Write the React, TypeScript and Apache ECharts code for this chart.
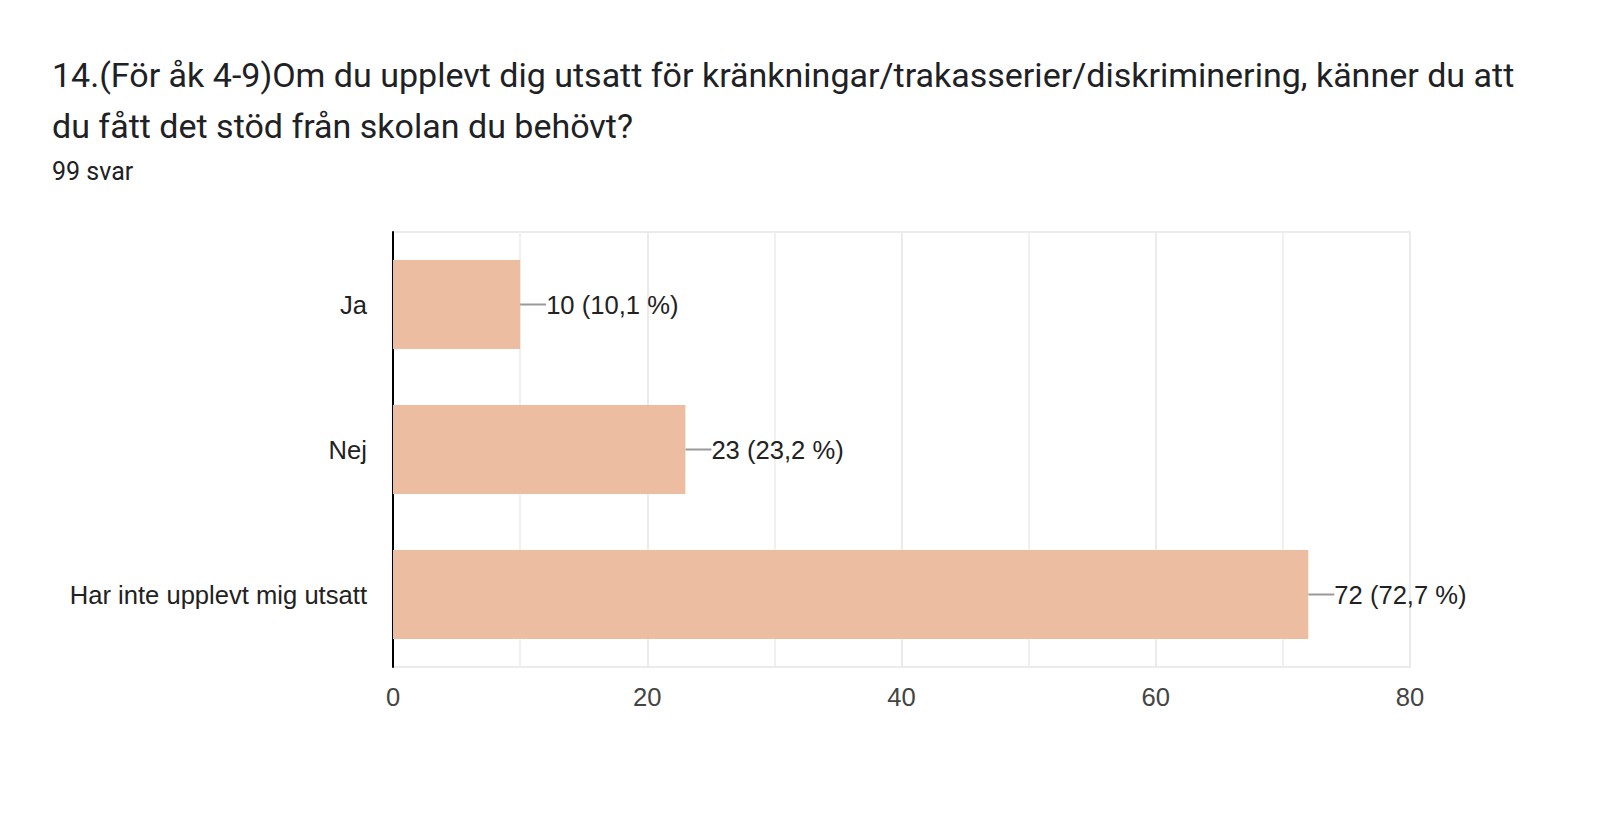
import React, { useEffect, useRef } from 'react';
import * as echarts from 'echarts';

const categories = ['Ja', 'Nej', 'Har inte upplevt mig utsatt'];
const counts = [10, 23, 72];
const percents = ['10,1', '23,2', '72,7'];
const xTicks = [0, 20, 40, 60, 80];

const TITLE = '14.(För åk 4-9)Om du upplevt dig utsatt för kränkningar/trakasserier/diskriminering, känner du att\ndu fått det stöd från skolan du behövt?';
const SUBTITLE = '99 svar';

const App: React.FC = () => {
    const chartRef = useRef<HTMLDivElement>(null);

    useEffect(() => {
        if (!chartRef.current) return;
        const chart = echarts.init(chartRef.current, null, { renderer: 'svg' });

        const option: echarts.EChartsOption = {
            animation: false,
            backgroundColor: '#ffffff',
            title: [
                {
                    text: TITLE,
                    left: 52,
                    top: 49,
                    padding: 0,
                    textStyle: {
                        fontFamily: 'Roboto',
                        fontSize: 34,
                        fontWeight: 'normal',
                        color: '#202124',
                        lineHeight: 51,
                    },
                },
                {
                    text: SUBTITLE,
                    left: 52,
                    top: 156,
                    padding: 0,
                    textStyle: {
                        fontFamily: 'Roboto',
                        fontSize: 25,
                        fontWeight: 'normal',
                        color: '#202124',
                        lineHeight: 30,
                    },
                },
            ],
            grid: {
                left: 393,
                right: 190,
                top: 232,
                bottom: 146,
                show: true,
                borderColor: '#ebebeb',
                borderWidth: 2,
            },
            xAxis: {
                type: 'value',
                min: xTicks[0],
                max: xTicks[xTicks.length - 1],
                interval: 20,
                axisLine: { show: false },
                axisTick: { show: false },
                minorTick: { show: false, splitNumber: 2 },
                minorSplitLine: { show: true, lineStyle: { color: '#f0f0f0', width: 2 } },
                splitLine: { lineStyle: { color: '#ebebeb', width: 2 } },
                axisLabel: {
                    fontFamily: 'Liberation Sans',
                    fontSize: 25.6,
                    color: '#444444',
                    margin: 17,
                },
            },
            yAxis: {
                type: 'category',
                data: categories,
                inverse: true,
                axisLine: { lineStyle: { color: '#000000', width: 2 } },
                axisTick: { show: false },
                axisLabel: {
                    fontFamily: 'Liberation Sans',
                    fontSize: 25.6,
                    color: '#222222',
                    margin: 26,
                },
            },
            series: [
                {
                    type: 'bar',
                    data: counts,
                    barWidth: 89,
                    itemStyle: { color: '#EDBDA1' },
                    label: {
                        show: true,
                        position: 'right',
                        distance: 0,
                        fontFamily: 'Liberation Sans',
                        fontSize: 25.6,
                        color: '#222222',
                        formatter: (p: any) => `${p.value} (${percents[p.dataIndex]} %)`,
                    },
                    labelLayout: { dx: 26 },
                    labelLine: { show: true, lineStyle: { color: '#999999', width: 2 } },
                },
            ],
        };

        chart.setOption(option);
        return () => chart.dispose();
    }, []);

    return (
        <div style={{ position: 'fixed', left: 0, top: 0, width: 1600, height: 813, background: '#fff' }}>
            <div ref={chartRef} style={{ width: 1600, height: 813 }} />
        </div>
    );
};

export default App;
